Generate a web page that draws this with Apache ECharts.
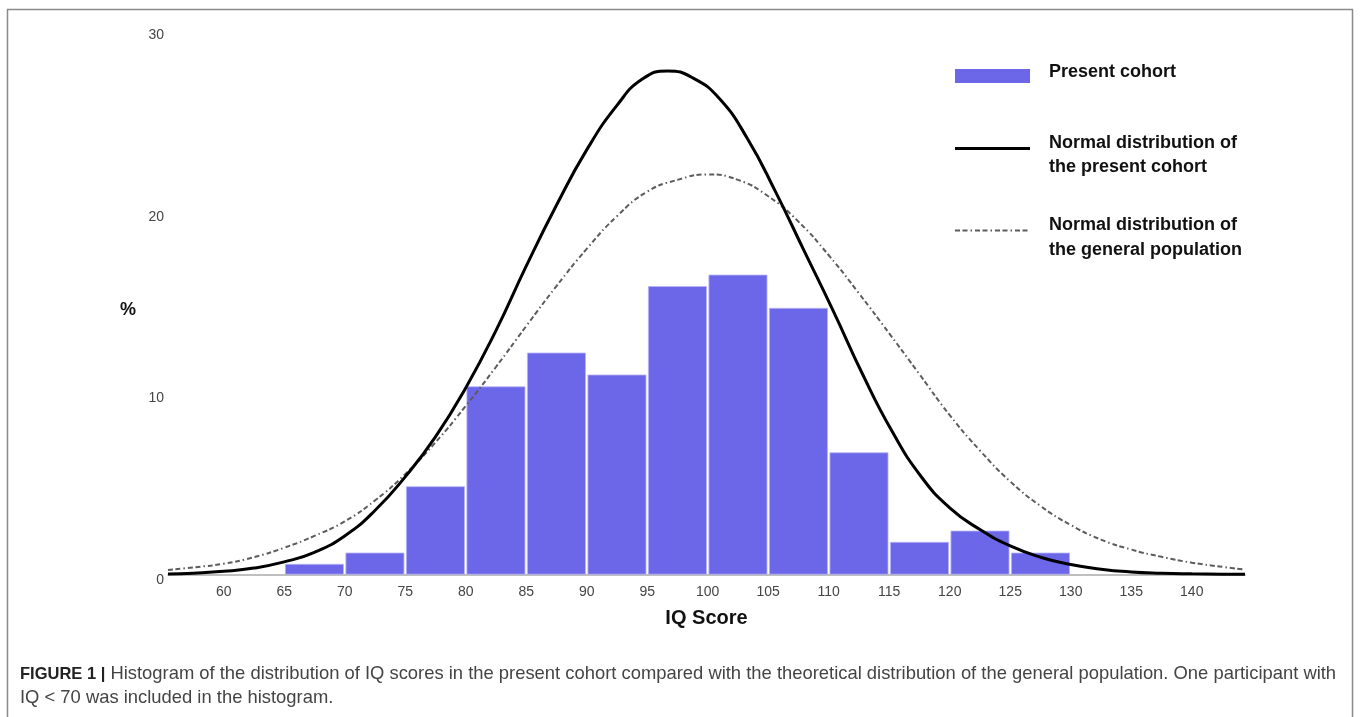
<!DOCTYPE html>
<html>
<head>
<meta charset="utf-8">
<script src="https://cdn.jsdelivr.net/npm/echarts@6/dist/echarts.min.js"></script>
<style>
html,body{margin:0;padding:0;background:#fff;}
#chart{width:1360px;height:717px;}
</style>
</head>
<body>
<div id="chart"></div>
<script>
// ---- data ----
const binLow  = [65, 70, 75, 80, 85, 90, 95, 100, 105, 110, 115, 120, 125];
const binHigh = [70, 75, 80, 85, 90, 95, 100, 105, 110, 115, 120, 125, 130];
const cohortPct = [0.59, 1.21, 4.86, 10.36, 12.22, 11.01, 15.88, 16.51, 14.68, 6.73, 1.80, 2.42, 1.21];

const cohortCurveX = [55.4, 57.5, 60, 62.5, 65, 67.5, 70, 72.5, 75, 77.5, 80, 82.5, 85, 87.5, 90, 92.5, 94.6, 96.7, 98.8, 101, 103.3, 105.6, 108, 110.4, 112.8, 115.2, 117.6, 120, 122.5, 125, 127.5, 130, 132.5, 135, 137.5, 140, 142.5, 144.4];
const cohortCurveY = [0.05, 0.1, 0.2, 0.38, 0.72, 1.25, 2.15, 3.55, 5.4, 7.6, 10.3, 13.45, 17.0, 20.35, 23.4, 25.85, 27.3, 27.75, 27.35, 26.2, 24.0, 21.1, 17.8, 14.5, 11.05, 7.95, 5.45, 3.7, 2.5, 1.6, 0.98, 0.58, 0.32, 0.17, 0.1, 0.065, 0.045, 0.035];

const popCurveX = [55.4, 57.5, 60, 62.5, 65, 67.5, 70, 72.5, 75, 77.5, 80, 82.5, 85, 87.5, 90, 92.5, 95, 97.5, 100, 102.5, 105, 107.5, 110, 112.5, 115, 117.5, 120, 122.5, 125, 127.5, 130, 132.5, 135, 137.5, 140, 142.5, 144.4];
const popCurveY = [0.28, 0.42, 0.62, 0.98, 1.5, 2.15, 2.95, 4.1, 5.55, 7.3, 9.3, 11.45, 13.7, 15.9, 17.95, 19.75, 21.1, 21.75, 22.05, 21.75, 20.85, 19.45, 17.6, 15.5, 13.3, 11.05, 8.8, 6.85, 5.15, 3.8, 2.75, 1.95, 1.4, 1.0, 0.68, 0.45, 0.3];

const yTicks = [0, 10, 20, 30];
const xTickLabels = [60, 65, 70, 75, 80, 85, 90, 95, 100, 105, 110, 115, 120, 125, 130, 135, 140];

const legendNames = ['Present cohort', 'Normal distribution of\nthe present cohort', 'Normal distribution of\nthe general population'];
const xTitle = 'IQ Score';
const yTitle = '%';
const captionBold = 'FIGURE 1 |';
const captionLine1 = ' Histogram of the distribution of IQ scores in the present cohort compared with the theoretical distribution of the general population. One participant with';
const captionLine2 = 'IQ < 70 was included in the histogram.';

// ---- build ----
const barColor = '#6c67e9';
const histData = binLow.map((lo, i) => [lo, binHigh[i], cohortPct[i]]);
const solidData = cohortCurveX.map((x, i) => [x, cohortCurveY[i]]);
const dashData = popCurveX.map((x, i) => [x, popCurveY[i]]);
const FONT = '"Liberation Sans", Arial, Helvetica, sans-serif';
const dashPattern = [5, 2.5, 5, 3, 1.5, 3];

const chart = echarts.init(document.getElementById('chart'), null, {renderer: 'canvas'});
const option = {
  backgroundColor: '#fff',
  animation: false,
  textStyle: {fontFamily: FONT},
  grid: {left: 168, right: 115, top: 30, bottom: 142, containLabel: false},
  xAxis: {
    type: 'value',
    min: 55.4,
    max: 144.4,
    splitNumber: 18,
    name: xTitle,
    nameLocation: 'middle',
    nameGap: 33,
    nameTextStyle: {fontFamily: FONT, fontWeight: 'bold', fontSize: 20, color: '#111'},
    axisLine: {show: true, lineStyle: {color: '#aaa', width: 1.5}},
    axisTick: {show: false},
    splitLine: {show: false},
    axisLabel: {
      margin: 10, fontSize: 14, color: '#444', fontFamily: FONT,
      showMinLabel: false, showMaxLabel: false,
      formatter: v => xTickLabels.indexOf(Math.round(v * 1000) / 1000) >= 0 ? String(v) : ''
    }
  },
  yAxis: {
    type: 'value',
    min: yTicks[0],
    max: yTicks[yTicks.length - 1],
    interval: 10,
    name: yTitle,
    nameLocation: 'middle',
    nameRotate: 0,
    nameGap: 32,
    nameTextStyle: {fontFamily: FONT, fontWeight: 'bold', fontSize: 18, color: '#111', verticalAlign: 'top', lineHeight: 16},
    axisLine: {show: false},
    axisTick: {show: false},
    splitLine: {show: false},
    axisLabel: {margin: 4, fontSize: 14, color: '#444', fontFamily: FONT, verticalAlign: 'top', lineHeight: 10}
  },
  series: [
    {
      name: legendNames[0],
      type: 'custom',
      data: histData,
      encode: {x: [0, 1], y: 2},
      z: 1,
      renderItem: function (params, api) {
        const p0 = api.coord([api.value(0), api.value(2)]);
        const p1 = api.coord([api.value(1), 0]);
        return {
          type: 'rect',
          shape: {x: p0[0] + 1.2, y: p0[1], width: p1[0] - p0[0] - 2.4, height: p1[1] - p0[1] - 0.8},
          style: {fill: barColor, stroke: '#b7b4f5', lineWidth: 0.8}
        };
      }
    },
    {
      name: legendNames[2],
      type: 'line',
      data: dashData,
      smooth: 0.5,
      symbol: 'none',
      z: 3,
      lineStyle: {color: '#5c5c5c', width: 2, type: dashPattern}
    },
    {
      name: legendNames[1],
      type: 'line',
      data: solidData,
      smooth: 0.5,
      symbol: 'none',
      z: 4,
      lineStyle: {color: '#000', width: 3}
    }
  ],
  graphic: [
    {type: 'rect', silent: true, shape: {x: 7.5, y: 9.5, width: 1345, height: 800}, style: {fill: 'none', stroke: '#8a8a8a', lineWidth: 1.5}},
    // legend
    {type: 'rect', shape: {x: 955, y: 69, width: 75, height: 14}, style: {fill: barColor}},
    {type: 'text', style: {x: 1049, y: 72.5, text: legendNames[0], font: 'bold 18px ' + FONT, fill: '#111', verticalAlign: 'middle'}},
    {type: 'line', shape: {x1: 955, y1: 148.5, x2: 1030, y2: 148.5}, style: {stroke: '#000', lineWidth: 3}},
    {type: 'text', style: {x: 1049, y: 155, text: legendNames[1], font: 'bold 18px ' + FONT, fill: '#111', verticalAlign: 'middle', lineHeight: 24.5}},
    {type: 'line', shape: {x1: 955, y1: 230.5, x2: 1030, y2: 230.5}, style: {stroke: '#5c5c5c', lineWidth: 2, lineDash: dashPattern}},
    {type: 'text', style: {x: 1049, y: 237.5, text: legendNames[2], font: 'bold 18px ' + FONT, fill: '#111', verticalAlign: 'middle', lineHeight: 24.5}},
    // caption
    {type: 'text', style: {
      x: 20, y: 674, verticalAlign: 'middle',
      text: '{b|' + captionBold + '}{n|' + captionLine1 + '}',
      rich: {
        b: {font: 'bold 16.5px ' + FONT, fill: '#222'},
        n: {font: '18.4px ' + FONT, fill: '#444'}
      }
    }},
    {type: 'text', style: {x: 20, y: 698, verticalAlign: 'middle', text: captionLine2, font: '18.4px ' + FONT, fill: '#444'}}
  ]
};
chart.setOption(option);
</script>
</body>
</html>
